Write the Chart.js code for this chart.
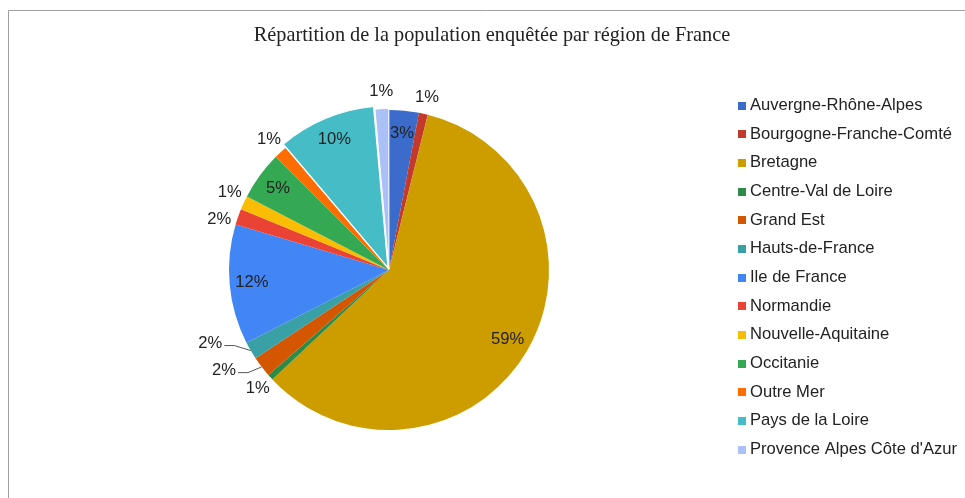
<!DOCTYPE html>
<html>
<head>
<meta charset="utf-8">
<script src="https://cdn.jsdelivr.net/npm/chart.js@4"></script>
<style>
    html, body { margin: 0; padding: 0; background: #fff; overflow: hidden; }
    #wrap { position: relative; width: 965px; height: 498px; }
</style>
</head>
<body>
<div id="wrap"><canvas id="regions-chart" width="965" height="498"></canvas></div>
<script>
const chartTitle = "Répartition de la population enquêtée par région de France";

const regions = [
    "Auvergne-Rhône-Alpes", "Bourgogne-Franche-Comté", "Bretagne", "Centre-Val de Loire",
    "Grand Est", "Hauts-de-France", "Ile de France", "Normandie", "Nouvelle-Aquitaine",
    "Occitanie", "Outre Mer", "Pays de la Loire", "Provence Alpes Côte d'Azur"
];
// part de chaque région (%)
const shares = [3.0, 0.9, 59.1, 0.6, 2.1, 1.8, 12.1, 1.6, 1.4, 4.9, 1.3, 9.8, 1.4];

const colors = [
    "#3b6ccb", "#c3392c", "#cd9d00", "#2b8b47", "#d45600", "#39a0a5", "#4285f4",
    "#ea4335", "#fbbc04", "#34a853", "#ff6d01", "#46bdc6", "#aac0f6"
];
const offsets = [0, 0, 0, 0, 0, 0, 0, 0, 0, 0, 0, 12, 3];
const borders = [0, 0, 0, 0, 0, 0, 0, 0, 0, 0, 0, 1, 1];

// décalage angulaire (degrés) des étiquettes extérieures
const labelShift = {4: 6, 5: 8, 7: -3, 8: 1};
const withLeader = [4, 5];

const deco = {
    id: "deco",
    beforeDraw(chart) {
        const ctx = chart.ctx;
        ctx.save();
        ctx.strokeStyle = "#a0a0a0";
        ctx.lineWidth = 1;
        ctx.beginPath();
        ctx.moveTo(8.5, 498);
        ctx.lineTo(8.5, 10.5);
        ctx.lineTo(965, 10.5);
        ctx.stroke();

        ctx.fillStyle = "#222";
        ctx.font = '20.3px "Liberation Serif", "Times New Roman", serif';
        ctx.textAlign = "center";
        ctx.textBaseline = "middle";
        ctx.fillText(chartTitle, 492, 36);
        ctx.restore();
    },
    afterDraw(chart) {
        const ctx = chart.ctx;
        const meta = chart.getDatasetMeta(0);
        const total = shares.reduce((a, b) => a + b, 0);
        ctx.save();
        ctx.font = '16.6px "Liberation Sans", Arial, sans-serif';
        ctx.textBaseline = "middle";

        meta.data.forEach((arc, i) => {
            const p = arc.getProps(["x", "y", "startAngle", "endAngle", "outerRadius", "circumference"], true);
            const mid = (p.startAngle + p.endAngle) / 2;
            // même déplacement que Chart.js pour une part détachée
            const fix = 1 - Math.sin(Math.min(Math.PI, p.circumference || 0));
            const off = offsets[i] / 4 * (1 + fix);
            const text = Math.round(shares[i] / total * 100) + "%";
            const w = ctx.measureText(text).width;
            ctx.fillStyle = "#222";
            ctx.textAlign = "center";
            if (shares[i] >= 2.5) {
                const d = p.outerRadius * 0.86 + off;
                ctx.fillText(text, p.x + Math.cos(mid) * d, p.y + Math.sin(mid) * d);
                return;
            }
            const a = mid + (labelShift[i] || 0) * Math.PI / 180;
            if (withLeader.includes(i)) {
                const d = p.outerRadius + 33;
                const tx = p.x + Math.cos(a) * d;
                const ty = p.y + Math.sin(a) * d;
                ctx.fillText(text, tx, ty);
                const ex = p.x + Math.cos(mid) * p.outerRadius;
                const ey = p.y + Math.sin(mid) * p.outerRadius;
                ctx.strokeStyle = "#555";
                ctx.lineWidth = 1;
                ctx.beginPath();
                ctx.moveTo(tx + w / 2 + 2, ty + 2.5);
                ctx.lineTo(tx + w / 2 + 12, ty + 2.5);
                ctx.lineTo(ex, ey);
                ctx.stroke();
            } else {
                const d = p.outerRadius + 17 + off;
                ctx.fillText(text, p.x + Math.cos(a) * d, p.y + Math.sin(a) * d);
            }
        });

        // légende
        ctx.textAlign = "left";
        regions.forEach((name, i) => {
            const y = 105.5 + i * 28.67;
            ctx.fillStyle = colors[i];
            ctx.fillRect(738, Math.round(y - 4), 8, 8);
            ctx.fillStyle = "#222";
            ctx.fillText(name, 750, y);
        });
        ctx.restore();
    }
};

new Chart(document.querySelector("#regions-chart"), {
    type: "pie",
    data: {
        labels: regions,
        datasets: [{
            data: shares,
            backgroundColor: colors,
            borderColor: "#fff",
            borderWidth: borders,
            offset: offsets,
            radius: 160
        }]
    },
    options: {
        responsive: false,
        animation: false,
        layout: {padding: {left: 0, right: 187, top: 82, bottom: 40}},
        plugins: {
            legend: {display: false},
            title: {display: false},
            tooltip: {enabled: false}
        }
    },
    plugins: [deco]
});
</script>
</body>
</html>
